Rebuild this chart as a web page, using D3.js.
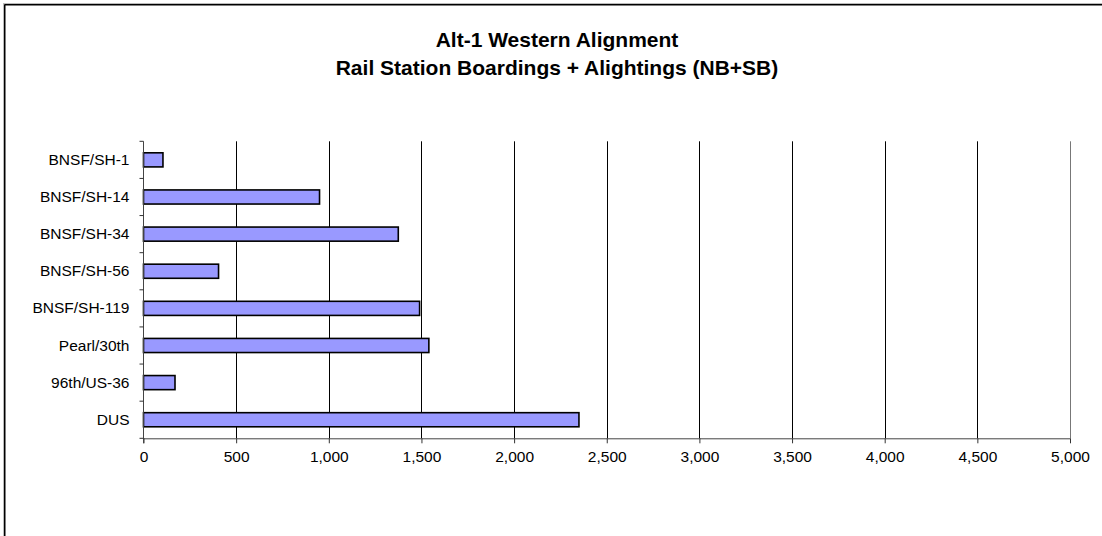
<!DOCTYPE html>
<html>
<head>
<meta charset="utf-8">
<script src="https://cdn.jsdelivr.net/npm/d3@7"></script>
<style>
  html, body { margin: 0; padding: 0; background: #fff; }
  svg { display: block; }
  text { font-family: Arial, "Liberation Sans", sans-serif; fill: #000; }
</style>
</head>
<body>
<script>
// Station boardings + alightings, NB+SB combined
const stations = ["BNSF/SH-1", "BNSF/SH-14", "BNSF/SH-34", "BNSF/SH-56",
                  "BNSF/SH-119", "Pearl/30th", "96th/US-36", "DUS"];
const riders = [105, 950, 1375, 405, 1490, 1540, 170, 2350];
const xTicks = [0, 500, 1000, 1500, 2000, 2500, 3000, 3500, 4000, 4500, 5000];
const titleLines = ["Alt-1 Western Alignment", "Rail Station Boardings + Alightings (NB+SB)"];

const W = 1102, H = 536;
const plot = { left: 143.5, right: 1070, top: 141.3, bottom: 438.3 };

const svg = d3.select("body").append("svg").attr("width", W).attr("height", H);

// outer chart frame (top and left edges with soft shadow)
svg.append("line").attr("x1", 3).attr("x2", W).attr("y1", 3.5).attr("y2", 3.5)
  .attr("stroke", "#bbb").attr("stroke-width", 1);
svg.append("line").attr("x1", 3.5).attr("x2", 3.5).attr("y1", 3).attr("y2", H)
  .attr("stroke", "#bbb").attr("stroke-width", 1);
svg.append("line").attr("x1", 4.5).attr("x2", W).attr("y1", 4.75).attr("y2", 4.75)
  .attr("stroke", "#000").attr("stroke-width", 1.5);
svg.append("line").attr("x1", 4.75).attr("x2", 4.75).attr("y1", 4.5).attr("y2", H)
  .attr("stroke", "#000").attr("stroke-width", 1.5);

// title
svg.append("g").selectAll("text").data(titleLines).join("text")
  .attr("x", 557).attr("y", (d, i) => 47 + i * 27.5)
  .attr("text-anchor", "middle")
  .attr("font-weight", "bold").attr("font-size", "21px")
  .text(d => d);

const x = d3.scaleLinear().domain([0, 5000]).range([plot.left, plot.right]);
const y = d3.scaleBand().domain(stations).range([plot.top, plot.bottom])
  .paddingInner(0.62).paddingOuter(0.31);

// vertical gridlines
svg.append("g").selectAll("line").data(xTicks.filter(t => t > 0)).join("line")
  .attr("x1", d => Math.round(x(d)) + 0.5).attr("x2", d => Math.round(x(d)) + 0.5)
  .attr("y1", plot.top).attr("y2", plot.bottom)
  .attr("stroke", d => d === 5000 ? "#777" : "#000").attr("stroke-width", 1);

// bars
svg.append("g").selectAll("rect").data(stations).join("rect")
  .attr("x", x(0))
  .attr("y", d => y(d))
  .attr("width", (d, i) => x(riders[i]) - x(0))
  .attr("height", y.bandwidth())
  .attr("fill", "#9999FF")
  .attr("stroke", "#000").attr("stroke-width", 1.6);

// x axis
const xAxis = d3.axisBottom(x).tickValues(xTicks).tickSize(5).tickPadding(8)
  .tickFormat(d3.format(","));
const gx = svg.append("g").attr("transform", `translate(0,${plot.bottom})`).call(xAxis);
gx.select(".domain").attr("stroke", "#444").attr("d", `M${plot.left},0.5H${plot.right}`);
gx.selectAll(".tick line").attr("stroke", "#333");
gx.selectAll(".tick text").attr("font-size", "15.5px")
  .attr("font-family", "Arial, 'Liberation Sans', sans-serif").attr("fill", "#000");

// y axis: category labels with boundary tick marks
const gy = svg.append("g");
gy.append("line").attr("x1", plot.left).attr("x2", plot.left)
  .attr("y1", plot.top).attr("y2", plot.bottom + 5)
  .attr("stroke", "#444").attr("stroke-width", 1);
const step = y.step();
const bounds = d3.range(stations.length + 1).map(i => plot.top + i * step);
gy.selectAll("line.tk").data(bounds).join("line").attr("class", "tk")
  .attr("x1", plot.left - 4).attr("x2", plot.left)
  .attr("y1", d => d).attr("y2", d => d)
  .attr("stroke", "#333").attr("stroke-width", 1);
gy.selectAll("text").data(stations).join("text")
  .attr("x", 129.5)
  .attr("y", d => y(d) + y.bandwidth() / 2)
  .attr("dy", "0.33em")
  .attr("text-anchor", "end")
  .attr("font-size", "15.5px")
  .text(d => d);
</script>
</body>
</html>
